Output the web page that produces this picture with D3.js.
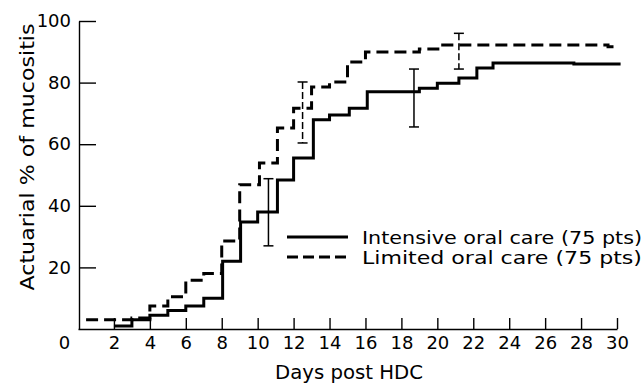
<!DOCTYPE html>
<html><head><meta charset="utf-8">
<script src="https://cdn.jsdelivr.net/npm/d3@7"></script>
<style>
html,body{margin:0;padding:0;background:#fff;}
svg text{font-family:"DejaVu Sans",sans-serif;fill:#000;}
</style></head>
<body><svg id="c" width="644" height="388"></svg>
<script>
// ---- data ----
const xTicks = [0,2,4,6,8,10,12,14,16,18,20,22,24,26,28,30];
const yTicks = [20,40,60,80,100];
const intensiveDays   = [2, 3, 4, 5, 6, 7, 8.05, 9.05, 10, 11.1, 12, 13.1, 14, 15.1, 16.1, 19, 20, 21.2, 22.2, 23.1, 27.6, 30.2];
const intensiveValues = [1.0, 3.0, 4.5, 6.0, 7.5, 10, 22, 34.7, 38, 48.4, 55.5, 67.9, 69.5, 71.7, 77, 78.2, 79.8, 81.5, 84.7, 86.4, 86, 86];
const limitedDays   = [0.45, 3, 4, 5, 6, 7, 8, 9, 10.1, 11.1, 12, 13, 14, 15, 16, 19, 20.3, 29.5, 30];
const limitedValues = [3.0, 3.6, 7.5, 10.5, 15.8, 18, 28.6, 46.8, 53.9, 65.3, 71.7, 78.6, 80.2, 86.7, 89.9, 90.9, 92.2, 91.6, 91.6];
const intensiveErrDay  = [10.6, 18.7];
const intensiveErrLow  = [27, 65.6];
const intensiveErrHigh = [48.8, 84.4];
const limitedErrDay  = [12.5, 21.2];
const limitedErrLow  = [60.4, 84.4];
const limitedErrHigh = [80.2, 96];
const legendLabels = ["Intensive oral care  (75 pts)", "Limited oral care  (75 pts)"];

// ---- layout ----
const svg = d3.select("#c");
const x = d3.scaleLinear().domain([0,30]).range([78,617]);
const y = d3.scaleLinear().domain([0,100]).range([329,21]);

// axes
const xAxis = svg.append("g").attr("transform","translate(0,329)")
  .call(d3.axisBottom(x).tickValues(xTicks).tickSizeInner(-11).tickSizeOuter(0).tickPadding(7.5));
xAxis.selectAll("text").style("font-size","18px");
xAxis.selectAll(".tick").filter(d=>d===0).select("line").remove();
xAxis.selectAll(".tick").filter(d=>d===0).select("text").attr("dx",-14);
xAxis.selectAll("line,path").attr("stroke","#000").attr("stroke-width",1.4);

const yAxis = svg.append("g").attr("transform","translate(79,0)")
  .call(d3.axisLeft(y).tickValues(yTicks).tickSizeInner(-17).tickSizeOuter(0).tickPadding(8));
yAxis.selectAll("text").style("font-size","18px");
yAxis.selectAll("line,path").attr("stroke","#000").attr("stroke-width",1.4);

// axis titles
svg.append("text").attr("x",349).attr("y",379).attr("text-anchor","middle")
  .attr("textLength",148).attr("lengthAdjust","spacingAndGlyphs")
  .style("font-size","19px").text("Days post HDC");
svg.append("text").attr("transform","translate(34,157) rotate(-90)").attr("text-anchor","middle")
  .attr("textLength",267).attr("lengthAdjust","spacingAndGlyphs")
  .style("font-size","19px").text("Actuarial % of mucositis");

// step lines
const line = d3.line().x(d=>x(d[0])).y(d=>y(d[1])).curve(d3.curveStepAfter);
const intensive = intensiveDays.map((d,i)=>[d,intensiveValues[i]]);
const limited = limitedDays.map((d,i)=>[d,limitedValues[i]]);
svg.append("path").datum(intensive).attr("d",line).attr("fill","none")
  .attr("stroke","#000").attr("stroke-width",3);
svg.append("path").datum(limited).attr("d",line).attr("fill","none")
  .attr("stroke","#000").attr("stroke-width",3).attr("stroke-dasharray","12,6");

// error bars
function errBars(days, lo, hi, dash){
  days.forEach((d,i)=>{
    const g = svg.append("g").attr("stroke","#000").attr("stroke-width",1.5);
    g.append("line").attr("x1",x(d)).attr("x2",x(d)).attr("y1",y(hi[i])).attr("y2",y(lo[i]))
      .attr("stroke-dasharray",dash?"7,3":null);
    [lo[i],hi[i]].forEach(v=>g.append("line").attr("x1",x(d)-5).attr("x2",x(d)+5)
      .attr("y1",y(v)).attr("y2",y(v)));
  });
}
errBars(intensiveErrDay,intensiveErrLow,intensiveErrHigh,false);
errBars(limitedErrDay,limitedErrLow,limitedErrHigh,true);

// legend
const lg = svg.append("g");
[0,1].forEach(i=>{
  const yy = 237 + i*20;
  lg.append("line").attr("x1",287).attr("x2",348).attr("y1",yy).attr("y2",yy)
    .attr("stroke","#000").attr("stroke-width",3)
    .attr("stroke-dasharray", i===1 ? "11,5" : null);
  lg.append("text").attr("x",362).attr("y",yy+6.5)
    .attr("textLength",280).attr("lengthAdjust","spacingAndGlyphs")
    .style("font-size","18px").text(legendLabels[i]);
});
</script></body></html>
